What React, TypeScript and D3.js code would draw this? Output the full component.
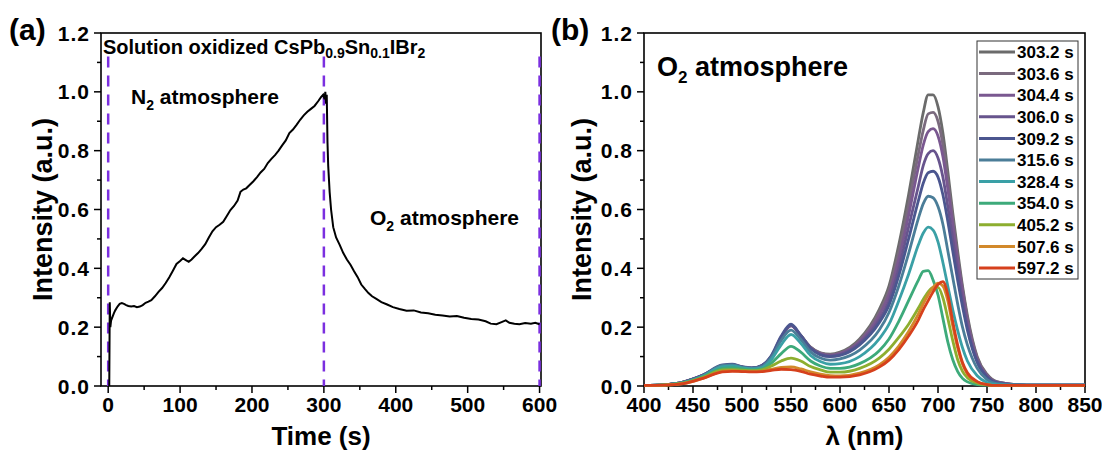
import * as d3 from "d3";

// (a) PL intensity vs time
const timeS = [1.5, 2.2, 3, 4, 6, 8, 10, 13, 16, 19, 22, 25, 28, 32, 36, 40, 44, 48, 52, 56, 60, 65, 70, 75, 80, 85, 90, 95, 100, 104, 108, 112, 116, 120, 125, 130, 135, 140, 145, 150, 155, 160, 165, 170, 175, 180, 184, 188, 192, 197, 202, 207, 212, 217, 222, 227, 232, 237, 242, 247, 252, 257, 262, 267, 272, 277, 282, 287, 292, 296, 299, 301, 302, 303, 304, 305, 306, 308, 310, 313, 317, 322, 327, 332, 337, 342, 347, 352, 357, 362, 367, 373, 380, 388, 396, 405, 415, 425, 435, 445, 455, 465, 475, 485, 495, 505, 515, 525, 532, 540, 548, 553, 558, 565, 572, 580, 588, 594, 600];
const intensityT = [0.0, 0.285, 0.2, 0.222, 0.235, 0.248, 0.258, 0.27, 0.279, 0.282, 0.279, 0.275, 0.272, 0.27, 0.272, 0.268, 0.27, 0.275, 0.283, 0.287, 0.292, 0.305, 0.32, 0.333, 0.35, 0.37, 0.392, 0.415, 0.425, 0.434, 0.428, 0.422, 0.43, 0.44, 0.452, 0.466, 0.482, 0.505, 0.526, 0.54, 0.548, 0.558, 0.578, 0.598, 0.612, 0.63, 0.66, 0.668, 0.672, 0.684, 0.696, 0.71, 0.726, 0.738, 0.758, 0.772, 0.785, 0.8, 0.818, 0.835, 0.86, 0.872, 0.888, 0.905, 0.92, 0.932, 0.942, 0.952, 0.968, 0.982, 0.99, 0.975, 1.0, 0.96, 0.99, 0.83, 0.75, 0.66, 0.6, 0.54, 0.505, 0.48, 0.452, 0.43, 0.412, 0.39, 0.37, 0.345, 0.33, 0.316, 0.305, 0.296, 0.285, 0.277, 0.268, 0.262, 0.256, 0.257, 0.25, 0.247, 0.242, 0.24, 0.236, 0.238, 0.232, 0.228, 0.226, 0.22, 0.212, 0.21, 0.218, 0.223, 0.215, 0.212, 0.21, 0.214, 0.212, 0.215, 0.21];
const switchTimes = [0, 300, 600];

// (b) spectra in O2
const wavelengths = [400, 420, 440, 460, 480, 490, 500, 510, 520, 530, 540, 550, 560, 570, 580, 590, 600, 620, 640, 650, 660, 670, 680, 685, 690, 695, 700, 705, 710, 715, 720, 725, 730, 740, 750, 760, 780, 800, 850];
const s303_2 = [0.002, 0.004, 0.013, 0.036, 0.068, 0.071, 0.064, 0.06, 0.068, 0.1, 0.165, 0.205, 0.172, 0.132, 0.113, 0.108, 0.115, 0.16, 0.26, 0.34, 0.48, 0.65, 0.84, 0.93, 0.99, 0.99, 0.95, 0.86, 0.73, 0.59, 0.46, 0.34, 0.24, 0.1, 0.04, 0.015, 0.005, 0.003, 0.003];
const s303_6 = [0.002, 0.004, 0.013, 0.036, 0.068, 0.071, 0.064, 0.06, 0.068, 0.1, 0.165, 0.205, 0.172, 0.132, 0.112, 0.106, 0.112, 0.155, 0.25, 0.325, 0.455, 0.615, 0.79, 0.87, 0.925, 0.93, 0.9, 0.82, 0.7, 0.57, 0.44, 0.33, 0.23, 0.095, 0.037, 0.014, 0.005, 0.003, 0.003];
const s304_4 = [0.002, 0.004, 0.013, 0.036, 0.068, 0.071, 0.064, 0.06, 0.068, 0.1, 0.165, 0.205, 0.17, 0.13, 0.11, 0.104, 0.11, 0.15, 0.24, 0.31, 0.43, 0.58, 0.745, 0.82, 0.865, 0.875, 0.85, 0.78, 0.67, 0.55, 0.43, 0.32, 0.22, 0.09, 0.035, 0.013, 0.005, 0.003, 0.003];
const s306_0 = [0.002, 0.004, 0.013, 0.036, 0.069, 0.072, 0.065, 0.061, 0.069, 0.101, 0.165, 0.205, 0.17, 0.128, 0.108, 0.102, 0.107, 0.145, 0.225, 0.29, 0.4, 0.54, 0.68, 0.75, 0.79, 0.8, 0.775, 0.71, 0.61, 0.5, 0.39, 0.29, 0.2, 0.085, 0.032, 0.012, 0.004, 0.003, 0.003];
const s309_2 = [0.002, 0.004, 0.013, 0.037, 0.072, 0.074, 0.066, 0.062, 0.07, 0.104, 0.17, 0.21, 0.172, 0.128, 0.106, 0.1, 0.104, 0.14, 0.215, 0.275, 0.375, 0.5, 0.63, 0.69, 0.725, 0.73, 0.71, 0.65, 0.56, 0.46, 0.36, 0.27, 0.19, 0.08, 0.03, 0.011, 0.004, 0.003, 0.003];
const s315_6 = [0.002, 0.004, 0.012, 0.035, 0.07, 0.072, 0.064, 0.06, 0.066, 0.098, 0.155, 0.19, 0.158, 0.116, 0.095, 0.088, 0.092, 0.122, 0.19, 0.25, 0.34, 0.45, 0.57, 0.62, 0.645, 0.64, 0.61, 0.55, 0.46, 0.37, 0.28, 0.2, 0.14, 0.06, 0.022, 0.008, 0.004, 0.003, 0.003];
const s328_4 = [0.002, 0.004, 0.011, 0.033, 0.066, 0.068, 0.062, 0.058, 0.062, 0.09, 0.14, 0.175, 0.145, 0.104, 0.083, 0.074, 0.076, 0.1, 0.16, 0.21, 0.29, 0.38, 0.48, 0.52, 0.54, 0.53, 0.49, 0.42, 0.34, 0.26, 0.19, 0.13, 0.085, 0.035, 0.012, 0.005, 0.003, 0.003, 0.003];
const s354_0 = [0.002, 0.004, 0.011, 0.031, 0.06, 0.062, 0.058, 0.055, 0.058, 0.078, 0.11, 0.135, 0.115, 0.085, 0.068, 0.06, 0.06, 0.076, 0.12, 0.16, 0.22, 0.29, 0.36, 0.39, 0.392, 0.36, 0.31, 0.23, 0.15, 0.09, 0.05, 0.026, 0.014, 0.005, 0.003, 0.002, 0.002, 0.002, 0.002];
const s405_2 = [0.002, 0.003, 0.01, 0.029, 0.055, 0.056, 0.054, 0.052, 0.055, 0.068, 0.085, 0.095, 0.085, 0.066, 0.055, 0.047, 0.047, 0.06, 0.095, 0.125, 0.165, 0.21, 0.265, 0.295, 0.32, 0.335, 0.335, 0.3, 0.23, 0.155, 0.09, 0.05, 0.028, 0.01, 0.004, 0.002, 0.002, 0.002, 0.002];
const s507_6 = [0.002, 0.003, 0.008, 0.026, 0.05, 0.052, 0.05, 0.049, 0.05, 0.057, 0.063, 0.065, 0.058, 0.048, 0.04, 0.035, 0.034, 0.044, 0.072, 0.098, 0.136, 0.185, 0.245, 0.28, 0.31, 0.335, 0.35, 0.34, 0.29, 0.205, 0.13, 0.075, 0.04, 0.014, 0.005, 0.002, 0.002, 0.002, 0.002];
const s597_2 = [0.002, 0.003, 0.008, 0.026, 0.048, 0.05, 0.049, 0.048, 0.049, 0.053, 0.057, 0.056, 0.05, 0.04, 0.034, 0.03, 0.03, 0.038, 0.064, 0.088, 0.124, 0.17, 0.225, 0.26, 0.29, 0.32, 0.345, 0.355, 0.31, 0.22, 0.14, 0.08, 0.045, 0.015, 0.005, 0.002, 0.002, 0.002, 0.002];

const legendLabels = ["303.2 s", "303.6 s", "304.4 s", "306.0 s", "309.2 s", "315.6 s", "328.4 s", "354.0 s", "405.2 s", "507.6 s", "597.2 s"];
const seriesColors = ["#6b6b6b", "#7a6a7e", "#7a5890", "#67548d", "#4b568f", "#4b7d98", "#3aa0a6", "#3daa7a", "#8dae2f", "#d2892a", "#d6401c"];
const spectra = [s303_2, s303_6, s304_4, s306_0, s309_2, s315_6, s328_4, s354_0, s405_2, s507_6, s597_2];

const yTicks = [0, 0.2, 0.4, 0.6, 0.8, 1.0, 1.2];
const yMinor = [0.1, 0.3, 0.5, 0.7, 0.9, 1.1];
const timeTicks = [0, 100, 200, 300, 400, 500, 600];
const timeMinor = [50, 150, 250, 350, 450, 550];
const wlTicks = [400, 450, 500, 550, 600, 650, 700, 750, 800, 850];
const wlMinor = [425, 475, 525, 575, 625, 675, 725, 775, 825];

const font = "'Liberation Sans', Arial, sans-serif";
const top = 33;
const bottom = 386;

const y = d3.scaleLinear().domain([0, 1.2]).range([bottom, top]);
const xA = d3.scaleLinear().domain([-10, 602]).range([101, 541]);
const xB = d3.scaleLinear().domain([400, 850]).range([644, 1085]);

function Frame({ x, ticks, minor }: { x: d3.ScaleLinear<number, number>; ticks: number[]; minor: number[] }) {
  const [x0, x1] = x.range();
  return (
    <g>
      <rect x={x0} y={top} width={x1 - x0} height={bottom - top} fill="none" stroke="#000" strokeWidth={1.6} />
      {yTicks.map(t => (
        <g key={"y" + t}>
          <line x1={x0 - 7} x2={x0} y1={y(t)} y2={y(t)} stroke="#000" strokeWidth={1.5} />
          <text x={x0 - 11} y={y(t)} dy="0.36em" textAnchor="end" fontSize={21} fontWeight="bold" letterSpacing={1}>{t.toFixed(1)}</text>
        </g>
      ))}
      {yMinor.map(t => (
        <line key={"ym" + t} x1={x0 - 4} x2={x0} y1={y(t)} y2={y(t)} stroke="#000" strokeWidth={1.5} />
      ))}
      {ticks.map(t => (
        <g key={"x" + t}>
          <line x1={x(t)} x2={x(t)} y1={bottom} y2={bottom + 7} stroke="#000" strokeWidth={1.5} />
          <text x={x(t)} y={bottom + 26} textAnchor="middle" fontSize={21} fontWeight="bold">{t}</text>
        </g>
      ))}
      {minor.map(t => (
        <line key={"xm" + t} x1={x(t)} x2={x(t)} y1={bottom} y2={bottom + 4} stroke="#000" strokeWidth={1.5} />
      ))}
    </g>
  );
}

export default function App() {
  const timeLine = d3.line<number>()
    .x((_, i) => xA(timeS[i]))
    .y(d => y(d));

  const specLine = d3.line<number>()
    .x((_, i) => xB(wavelengths[i]))
    .y(d => y(d))
    .curve(d3.curveMonotoneX);

  return (
    <svg width={1102} height={451} style={{ position: "absolute", left: 0, top: 0, background: "#fff" }} fontFamily={font}>
      {/* panel (a) */}
      <text x={9} y={40} fontSize={30} fontWeight="bold">(a)</text>
      <Frame x={xA} ticks={timeTicks} minor={timeMinor} />
      {switchTimes.map(t => (
        <line key={t} x1={xA(t)} x2={xA(t)} y1={y(1.12)} y2={y(0)} stroke="#7b2fe0" strokeWidth={2.5} strokeDasharray="11,8" />
      ))}
      <path d={timeLine(intensityT) ?? ""} fill="none" stroke="#000" strokeWidth={2} />
      <text x={103} y={54} fontSize={20} fontWeight="bold">
        Solution oxidized CsPb<tspan fontSize={14} dy={4}>0.9</tspan><tspan dy={-4}>Sn</tspan><tspan fontSize={14} dy={4}>0.1</tspan><tspan dy={-4}>IBr</tspan><tspan fontSize={14} dy={4}>2</tspan>
      </text>
      <text x={131} y={104} fontSize={21} fontWeight="bold">
        N<tspan fontSize={14} dy={6}>2</tspan><tspan dy={-6}> atmosphere</tspan>
      </text>
      <text x={370} y={225} fontSize={21} fontWeight="bold">
        O<tspan fontSize={14} dy={6}>2</tspan><tspan dy={-6}> atmosphere</tspan>
      </text>
      <text transform={`translate(52,${(top + bottom) / 2}) rotate(-90)`} textAnchor="middle" fontSize={27} fontWeight="bold">Intensity (a.u.)</text>
      <text x={(xA.range()[0] + xA.range()[1]) / 2} y={445} textAnchor="middle" fontSize={26} fontWeight="bold">Time (s)</text>

      {/* panel (b) */}
      <text x={551} y={40} fontSize={30} fontWeight="bold">(b)</text>
      <Frame x={xB} ticks={wlTicks} minor={wlMinor} />
      {spectra.map((s, i) => (
        <path key={i} d={specLine(s) ?? ""} fill="none" stroke={seriesColors[i]} strokeWidth={2.8} />
      ))}
      <text x={657} y={76} fontSize={27} fontWeight="bold">
        O<tspan fontSize={17} dy={7}>2</tspan><tspan dy={-7}> atmosphere</tspan>
      </text>
      <text transform={`translate(591,${(top + bottom) / 2}) rotate(-90)`} textAnchor="middle" fontSize={27} fontWeight="bold">Intensity (a.u.)</text>
      <text x={(xB.range()[0] + xB.range()[1]) / 2} y={445} textAnchor="middle" fontSize={26} fontWeight="bold">λ (nm)</text>

      {/* legend */}
      <rect x={977} y={41} width={101} height={238} fill="#fff" stroke="#333" strokeWidth={1} />
      {legendLabels.map((l, i) => (
        <g key={l}>
          <line x1={979} x2={1015} y1={52 + i * 21.6} y2={52 + i * 21.6} stroke={seriesColors[i]} strokeWidth={3} />
          <text x={1017} y={52 + i * 21.6} dy="0.36em" fontSize={17} fontWeight="bold">{l}</text>
        </g>
      ))}
    </svg>
  );
}
